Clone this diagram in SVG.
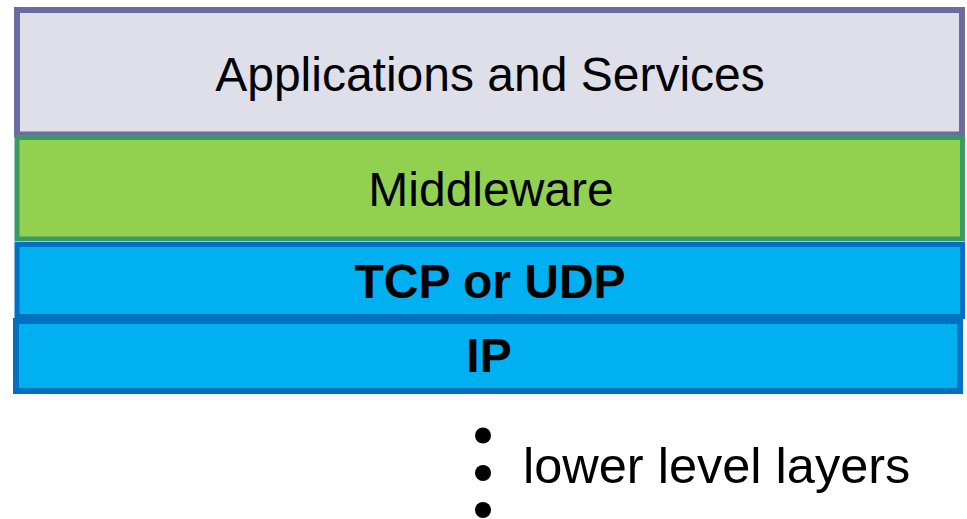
<svg xmlns="http://www.w3.org/2000/svg" width="967" height="519" viewBox="0 0 967 519">
  <style>
    .lbl { font-family: "Liberation Sans", Arial, sans-serif; font-size: 48px; fill: #000; text-anchor: middle; }
    .bold { font-weight: bold; }
    .net { fill: #00b0f0; stroke: #0070c0; }
  </style>
  <rect width="967" height="519" fill="#ffffff"/>

  <g id="applications">
    <rect x="17" y="10" width="945" height="124.5" fill="#dfdfea" stroke="#6b6b9f" stroke-width="6"/>
    <text class="lbl" x="490" y="91">Applications and Services</text>
  </g>

  <g id="middleware">
    <rect x="17" y="137.5" width="945.5" height="101.5" fill="#92d050" stroke="#3a9a64" stroke-width="5"/>
    <text class="lbl" x="491" y="206">Middleware</text>
  </g>

  <g id="transport">
    <rect class="net" x="17" y="244.5" width="945.5" height="72" stroke-width="5"/>
    <text class="lbl bold" x="490" y="298">TCP or UDP</text>
  </g>

  <g id="ip">
    <rect class="net" x="16" y="321" width="944" height="70" stroke-width="6"/>
    <text class="lbl bold" x="489" y="372">IP</text>
  </g>

  <g id="lower-layers">
    <circle cx="483" cy="435.5" r="8" fill="#000"/>
    <circle cx="483" cy="473" r="8" fill="#000"/>
    <circle cx="483" cy="510" r="8" fill="#000"/>
    <text class="lbl" x="523" y="483" style="text-anchor: start; font-size: 50.5px;">lower level layers</text>
  </g>
</svg>
